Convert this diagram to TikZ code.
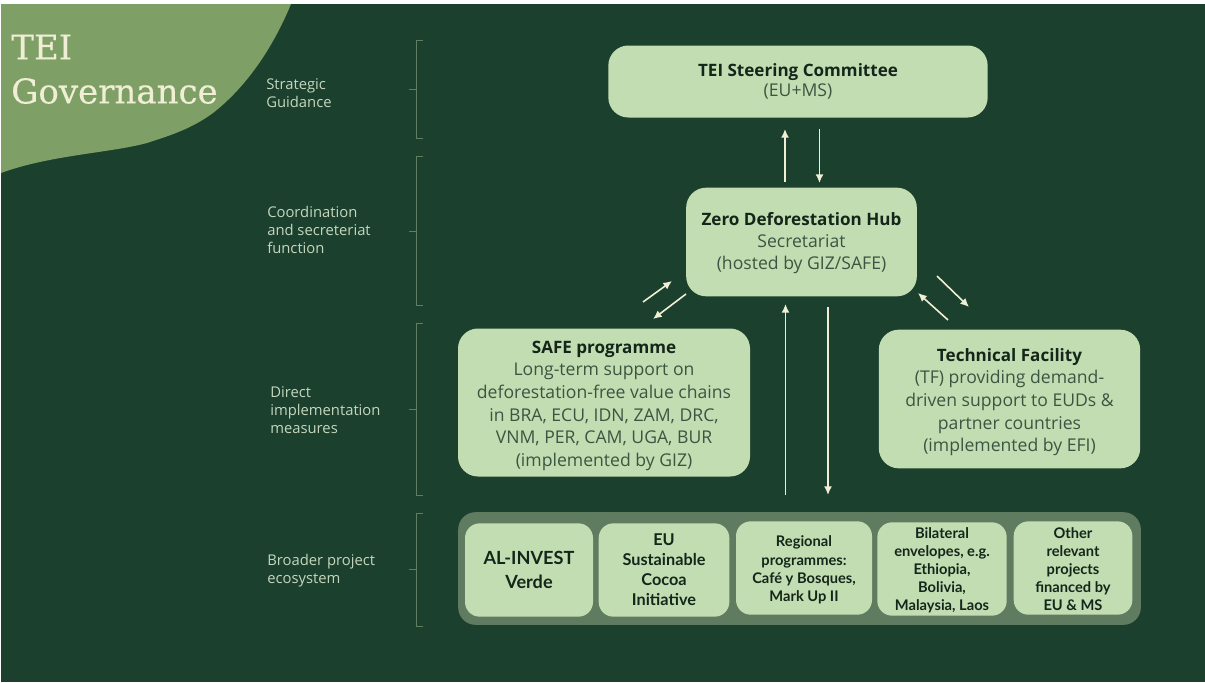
\documentclass[tikz,border=0pt]{standalone}
\usepackage{fontspec}
\setmainfont{Open Sans}
\newfontfamily\boldcond{Lato}
\newfontfamily\titlefont[FakeBold=0.35]{DejaVu Serif}
\usetikzlibrary{arrows.meta}
\definecolor{bgdark}{HTML}{1B402E}
\definecolor{blob}{HTML}{7EA066}
\definecolor{boxfill}{HTML}{C3DDB2}
\definecolor{band}{HTML}{5F7B60}
\definecolor{creme}{HTML}{F0EFD5}
\definecolor{labelc}{HTML}{C6D6BE}
\definecolor{brack}{HTML}{5E7F63}
\definecolor{inktext}{HTML}{14261A}
\definecolor{softtext}{HTML}{3A5642}
\newcommand{\headline}[1]{{\fontsize{12.8}{17}\selectfont\bfseries\color{inktext}#1}}
\tikzset{
  x=0.75pt,y=-0.75pt,
  bigbox/.style={fill=boxfill,rounded corners=15pt,align=center,inner sep=0pt,font=\fontsize{13.2}{17}\selectfont,text=softtext},
  smallbox/.style={fill=boxfill,rounded corners=11pt,align=center,inner sep=0pt,font=\boldcond\fontsize{11}{13.6}\selectfont\bfseries,text=inktext},
  sidelabel/.style={anchor=north west,align=left,inner sep=0pt,font=\fontsize{11.1}{13.5}\selectfont,text=labelc},
  bracketline/.style={draw=brack,line width=0.7pt},
  flow/.style={draw=creme,line width=1.2pt,-{Latex[length=6.5pt,width=6pt]}},
}
\begin{document}
\begin{tikzpicture}
\useasboundingbox (0,0) rectangle (1205,682);
\fill[white] (0,0) rectangle (1205,682);
\fill[bgdark] (1,4) rectangle (1205,682);
% blob
\fill[blob] (1,4) -- (291,4) .. controls (272,50) and (245,88) .. (213,113)
  .. controls (190,130) and (165,137) .. (147,143)
  .. controls (110,153) and (50,155) .. (1,173) -- cycle;
\node[anchor=west,inner sep=0pt,text=creme,font=\titlefont\fontsize{25.5}{25.5}\selectfont] (t1) at (11,47) {TEI};
\node[anchor=west,inner sep=0pt,text=creme,font=\titlefont\fontsize{25.5}{25.5}\selectfont] (t2) at (11,91) {Governance};
% side labels
\node[sidelabel] (l1) at (266,78) {Strategic\\Guidance};
\node[sidelabel] (l2) at (267,206) {Coordination\\and secreteriat\\function};
\node[sidelabel] (l3) at (270,386) {Direct\\implementation\\measures};
\node[sidelabel] (l4) at (267,554) {Broader project\\ecosystem};
% brackets
\draw[bracketline] (423,40) -- (416,40) -- (416,138) -- (423,138) (416,89) -- (409,89);
\draw[bracketline] (423,156) -- (416,156) -- (416,305) -- (423,305) (416,231) -- (409,231);
\draw[bracketline] (423,323) -- (416,323) -- (416,495) -- (423,495) (416,409) -- (409,409);
\draw[bracketline] (423,513) -- (416,513) -- (416,626) -- (423,626) (416,569) -- (409,569);
% main boxes
\node[bigbox,minimum width=284.5pt,minimum height=54pt,font=\fontsize{13.2}{15}\selectfont] (steer) at (798,81.5) {\headline{TEI Steering Committee}\\(EU+MS)};
\node[bigbox,minimum width=173pt,minimum height=81.5pt,font=\fontsize{13.2}{16.5}\selectfont] (hub) at (801.5,242) {\rule{0pt}{11.2pt}\headline{Zero Deforestation Hub}\\Secretariat\\(hosted by GIZ/SAFE)};
\node[bigbox,minimum width=219pt,minimum height=111pt] (safe) at (604,402.5) {\rule{0pt}{14.2pt}\headline{SAFE programme}\\Long-term support on\\deforestation-free value chains\\in BRA, ECU, IDN, ZAM, DRC,\\VNM, PER, CAM, UGA, BUR\\(implemented by GIZ)};
\node[bigbox,minimum width=196pt,minimum height=104pt] (tf) at (1009.5,399) {\rule{0pt}{14.2pt}\headline{Technical Facility}\\(TF) providing demand-\\driven support to EUDs \&\\partner countries\\(implemented by EFI)};
% band
\node[fill=band,rounded corners=13pt,minimum width=512pt,minimum height=84.5pt,inner sep=0pt] (eco) at (799.5,568.5) {};
\node[smallbox,minimum width=96pt,minimum height=70pt,font=\boldcond\fontsize{13.6}{18}\selectfont\bfseries] (b1) at (529,570) {AL-INVEST\\Verde};
\node[smallbox,minimum width=98pt,minimum height=70pt,font=\boldcond\fontsize{12.2}{15}\selectfont\bfseries] (b2) at (664,570) {EU\\Sustainable\\Cocoa\\Initiative};
\node[smallbox,minimum width=102pt,minimum height=70pt] (b3) at (804,568) {\rule{0pt}{11pt}Regional\\programmes:\\Café y Bosques,\\Mark Up II};
\node[smallbox,minimum width=97pt,minimum height=70pt] (b4) at (942,569) {\rule{0pt}{10pt}Bilateral\\envelopes, e.g.\\Ethiopia,\\Bolivia,\\Malaysia, Laos};
\node[smallbox,minimum width=89pt,minimum height=70pt] (b5) at (1073,568) {\rule{0pt}{10pt}Other\\relevant\\projects\\financed by\\EU \& MS};
% arrow ends
\coordinate (a1s) at (785,182); \coordinate (a1e) at (785,129);
\coordinate (a2s) at (819.5,129); \coordinate (a2e) at (819.5,183);
\coordinate (a3s) at (643,302); \coordinate (a3e) at (672,281);
\coordinate (a4s) at (686,294); \coordinate (a4e) at (653,319);
\coordinate (a5s) at (948,320); \coordinate (a5e) at (918,293);
\coordinate (a6s) at (937,276); \coordinate (a6e) at (969,307);
\coordinate (a7s) at (785.5,495); \coordinate (a7e) at (785.5,304);
\coordinate (a8s) at (828,307); \coordinate (a8e) at (828,495);
\foreach \i in {1,...,8} {\draw[flow] (a\i s) -- (a\i e);}
\end{tikzpicture}
\end{document}
